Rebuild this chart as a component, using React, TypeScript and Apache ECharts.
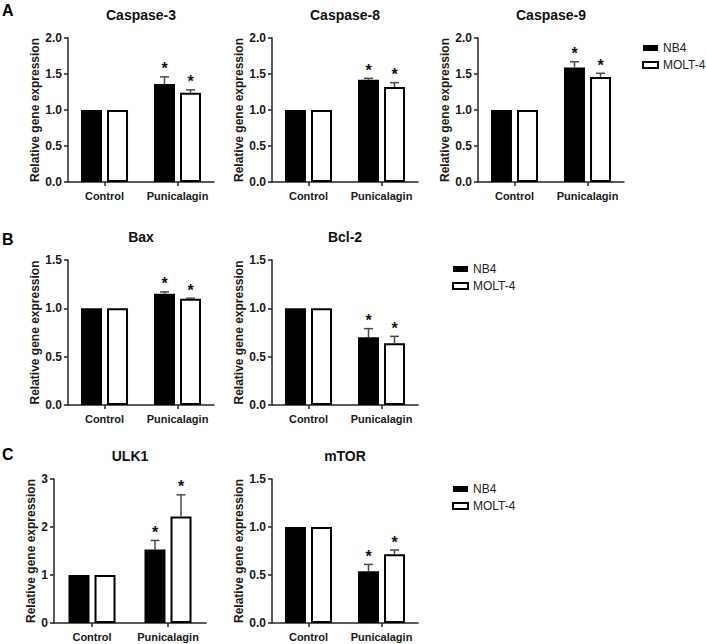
import React, { useEffect, useRef } from 'react';
import * as echarts from 'echarts';

const categories = ['Control', 'Punicalagin'];
const seriesNames = ['NB4', 'MOLT-4'];
const geneTitles = ['Caspase-3', 'Caspase-8', 'Caspase-9', 'Bax', 'Bcl-2', 'ULK1', 'mTOR'];
const panelLetters = ['A', 'B', 'C'];

// mean relative expression per gene: [Control, Punicalagin]
const nb4Mean = [
  [1.0, 1.36], [1.0, 1.42], [1.0, 1.59], [1.0, 1.15], [1.0, 0.70], [1.0, 1.53], [1.0, 0.54],
];
const nb4Err = [
  [0, 0.10], [0, 0.02], [0, 0.08], [0, 0.02], [0, 0.09], [0, 0.19], [0, 0.07],
];
const molt4Mean = [
  [1.0, 1.24], [1.0, 1.32], [1.0, 1.46], [1.0, 1.10], [1.0, 0.64], [1.0, 2.22], [1.0, 0.715],
];
const molt4Err = [
  [0, 0.04], [0, 0.06], [0, 0.05], [0, 0.005], [0, 0.07], [0, 0.45], [0, 0.045],
];
const significant = [false, true];

// y axes
const yMax = [2, 2, 2, 1.5, 1.5, 3, 1.5];
const yStep = [0.5, 0.5, 0.5, 0.5, 0.5, 1, 0.5];
const yDecimals = [1, 1, 1, 1, 1, 0, 1];

// layout (pixels)
const gridBoxes = [
  { left: 68, top: 38, width: 146, height: 144 },
  { left: 272, top: 38, width: 146, height: 144 },
  { left: 478, top: 38, width: 146, height: 144 },
  { left: 68, top: 260, width: 146, height: 145 },
  { left: 272, top: 260, width: 146, height: 145 },
  { left: 54, top: 479, width: 152, height: 144 },
  { left: 272, top: 479, width: 146, height: 144 },
];
const titleY = [15, 15, 15, 237, 237, 456, 456];
const nameGaps = [19, 19, 19, 19, 19, 5, 19];
const letterPos = [
  { x: 2, y: 2 },
  { x: 2, y: 231 },
  { x: 2, y: 446 },
];
const legendPos = [
  { left: 642, top: 42 },
  { left: 452, top: 263 },
  { left: 452, top: 483 },
];

const FONT = '"Liberation Sans", Arial, Helvetica, sans-serif';
const AXIS = '#262626';

export default function App() {
  const ref = useRef<HTMLDivElement>(null);

  useEffect(() => {
    const chart = echarts.init(ref.current!, null, { renderer: 'svg' });

    const grid: any[] = [];
    const xAxis: any[] = [];
    const yAxis: any[] = [];
    const series: any[] = [];
    const graphic: any[] = [];

    const means = [nb4Mean, molt4Mean];
    const errs = [nb4Err, molt4Err];
    const offsets = [-13, 13];

    geneTitles.forEach((title, i) => {
      const b = gridBoxes[i];
      grid.push({ left: b.left, top: b.top, width: b.width, height: b.height, containLabel: false });
      xAxis.push({
        type: 'category',
        gridIndex: i,
        data: categories,
        axisLine: { show: true, lineStyle: { color: AXIS, width: 1.5 } },
        axisTick: { show: true, alignWithLabel: true, length: 4, lineStyle: { color: AXIS, width: 1.5 } },
        axisLabel: { interval: 0, color: '#1a1a1a', fontSize: 11, fontWeight: 'bold', fontFamily: FONT, margin: 8 },
        splitLine: { show: false },
      });
      yAxis.push({
        type: 'value',
        gridIndex: i,
        min: 0,
        max: yMax[i],
        interval: yStep[i],
        name: 'Relative gene expression',
        nameLocation: 'middle',
        nameRotate: 90,
        nameGap: nameGaps[i],
        nameTextStyle: { color: '#1a1a1a', fontSize: 12, fontWeight: 'bold', fontFamily: FONT },
        axisLine: { show: true, lineStyle: { color: AXIS, width: 1.5 } },
        axisTick: { show: true, length: 4, lineStyle: { color: AXIS, width: 1.5 } },
        axisLabel: {
          color: '#1a1a1a', fontSize: 12, fontWeight: 'bold', fontFamily: FONT, margin: 6,
          formatter: (v: number) => v.toFixed(yDecimals[i]),
        },
        splitLine: { show: false },
      });

      seriesNames.forEach((name, g) => {
        series.push({
          type: 'bar',
          name,
          xAxisIndex: i,
          yAxisIndex: i,
          data: means[g][i],
          barWidth: 21,
          barGap: '24%',
          itemStyle: g === 0
            ? { color: '#000000' }
            : { color: '#ffffff', borderColor: '#000000', borderWidth: 2 },
          emphasis: { disabled: true },
        });
      });

      seriesNames.forEach((name, g) => {
        const data = categories.map((c, j) => [j, means[g][i][j], errs[g][i][j], significant[j] ? 1 : 0]);
        series.push({
          type: 'custom',
          name: 'err-' + name,
          xAxisIndex: i,
          yAxisIndex: i,
          data,
          z: 5,
          clip: false,
          encode: { x: 0, y: 1 },
          renderItem: (params: any, api: any) => {
            const x = api.value(0);
            const m = api.value(1);
            const e = api.value(2);
            const s = api.value(3);
            const p0 = api.coord([x, m]);
            const p1 = api.coord([x, m + e]);
            const cx = p0[0] + offsets[g];
            const children: any[] = [];
            if (e > 0) {
              children.push({
                type: 'line',
                shape: { x1: cx, y1: p0[1], x2: cx, y2: p1[1] },
                style: { stroke: '#4a4a4a', lineWidth: 1.5 },
              });
              children.push({
                type: 'line',
                shape: { x1: cx - 4.5, y1: p1[1], x2: cx + 4.5, y2: p1[1] },
                style: { stroke: '#4a4a4a', lineWidth: 1.5 },
              });
            }
            if (s) {
              children.push({
                type: 'text',
                x: cx,
                y: p1[1] - 8,
                style: {
                  text: '*', fill: '#111', fontSize: 16, fontWeight: 'bold', fontFamily: FONT,
                  align: 'center', verticalAlign: 'middle',
                },
              });
            }
            return { type: 'group', children };
          },
        });
      });

      graphic.push({
        type: 'text',
        x: b.left + b.width / 2,
        y: titleY[i],
        style: {
          text: title, fill: '#111', fontSize: 14, fontWeight: 'bold', fontFamily: FONT,
          align: 'center', verticalAlign: 'middle',
        },
      });
    });

    panelLetters.forEach((l, k) => {
      graphic.push({
        type: 'text',
        x: letterPos[k].x,
        y: letterPos[k].y,
        style: { text: l, fill: '#000', fontSize: 16, fontWeight: 'bold', fontFamily: FONT, align: 'left', verticalAlign: 'top' },
      });
    });

    const legend = legendPos.map((p) => ({
      data: seriesNames,
      orient: 'vertical',
      left: p.left,
      top: p.top,
      padding: 0,
      itemWidth: 15,
      itemHeight: 6,
      itemGap: 5,
      icon: 'rect',
      selectedMode: false,
      textStyle: { color: '#222', fontSize: 12, fontFamily: FONT },
    }));

    chart.setOption({
      animation: false,
      backgroundColor: '#ffffff',
      grid,
      xAxis,
      yAxis,
      series,
      legend,
      graphic,
    });

    return () => chart.dispose();
  }, []);

  return (
    <div
      ref={ref}
      style={{ position: 'absolute', left: 0, top: 0, width: 706, height: 644, background: '#fff' }}
    />
  );
}
